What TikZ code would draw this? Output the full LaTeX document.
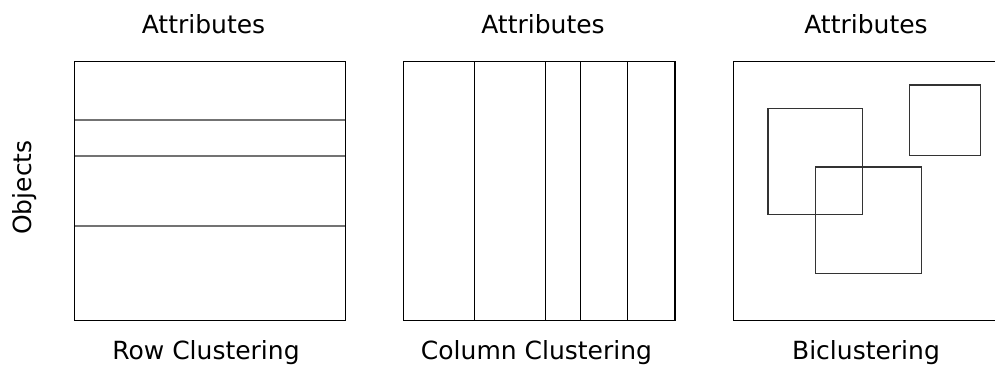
\documentclass[tikz,border=0pt]{standalone}
\usepackage{fontspec}
\setmainfont{DejaVu Sans}
\begin{document}
\begin{tikzpicture}[x=1pt,y=-1pt,
  frame/.style={draw=black,line width=1.1pt},
  rowline/.style={draw=black!55,line width=1.3pt},
  colline/.style={draw=black,line width=1.1pt},
  bic/.style={draw=black!80,line width=1.1pt},
  lbl/.style={font=\fontsize{25}{30}\selectfont,anchor=base,inner sep=0pt}]
\useasboundingbox (0,0) rectangle (995,364);
\clip (0,0) rectangle (995,364);
% panel 1
\node[lbl] (t1) at (203.5,33) {Attributes};
\node[lbl] (b1) at (206,359) {Row Clustering};
\node[lbl,rotate=90] (obj) at (31,187.5) {Objects};
\draw[rowline] (74.5,120) -- (345.5,120);
\draw[rowline] (74.5,156) -- (345.5,156);
\draw[rowline] (74.5,226) -- (345.5,226);
\draw[frame] (74.5,61.5) rectangle (345.5,320.5);
% panel 2
\node[lbl] (t2) at (543,33) {Attributes};
\node[lbl] (b2) at (536.5,359) {Column Clustering};
\draw[colline] (474.7,61.5) -- (474.7,320.5);
\draw[colline] (545.3,61.5) -- (545.3,320.5);
\draw[colline] (580.3,61.5) -- (580.3,320.5);
\draw[colline] (627.7,61.5) -- (627.7,320.5);
\draw[frame] (403.5,61.5) rectangle (675,320.5);
% panel 3
\node[lbl] (t3) at (866,33) {Attributes};
\node[lbl] (b3) at (866,359) {Biclustering};
\draw[frame] (733.3,61.5) rectangle (1004.3,320.5);
\draw[bic] (768,108.3) rectangle (862.7,214.3);
\draw[bic] (815.3,167) rectangle (921.3,273.3);
\draw[bic] (909.3,85) rectangle (980.7,155.7);
\end{tikzpicture}
\end{document}
